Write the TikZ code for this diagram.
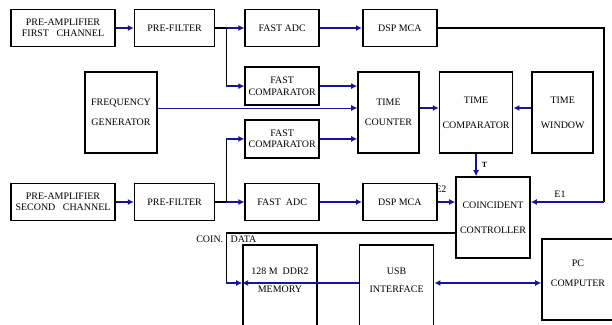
\documentclass[tikz,border=0pt]{standalone}
\usepackage{fontspec}
\setmainfont{Liberation Serif}
\usetikzlibrary{positioning,arrows.meta,calc}
\definecolor{cWire}{HTML}{14149c}
\tikzset{
  >={Latex[length=6pt,width=6pt]},
  blk/.style={draw,line width=1.6pt,align=center,inner sep=1pt,
              font=\fontsize{10}{11.5}\selectfont,minimum height=37bp},
  tall/.style={blk,minimum height=81bp,font=\fontsize{10}{20}\selectfont},
  wide/.style={tall,font=\fontsize{10}{25}\selectfont},
  inlbl/.style={align=center,inner sep=0pt,font=\fontsize{10}{18}\selectfont},
  sar/.style={->,line width=1.5pt,cWire},
  sln/.style={line width=1.5pt,black},
  lbl/.style={font=\fontsize{10}{11}\selectfont,inner sep=0pt,text=black},
}
\begin{document}
\begin{tikzpicture}[x=1bp,y=1bp,node distance=18bp]
  \useasboundingbox (0,0) rectangle (612,324);
  \clip (0,0) rectangle (612,324);
  \node[blk,minimum width=104bp] (pa1) at (63,296) {PRE-AMPLIFIER\\FIRST~~~CHANNEL};
  \node[blk,minimum width=80bp,right=of pa1] (pf1) {PRE-FILTER};
  \node[blk,minimum width=74bp,right=29bp of pf1] (adc1) {FAST ADC};
  \node[blk,minimum width=74bp,right=42bp of adc1] (dsp1) {DSP MCA};
  \node[blk,minimum width=74bp,minimum height=38bp,below=19bp of adc1] (fc1) {FAST\\COMPARATOR};

  \node[tall,minimum width=72bp] (fg) at (121,211.5) {FREQUENCY\\GENERATOR};
  \node[tall,minimum width=61bp] (tcnt) at (388.5,211.5) {TIME\\COUNTER};
  \node[wide,minimum width=73bp,right=19bp of tcnt] (tcmp) {TIME\\COMPARATOR};
  \node[wide,minimum width=61bp,right=of tcmp] (twin) {TIME\\WINDOW};

  \node[blk,minimum width=104bp] (pa2) at (63,122) {PRE-AMPLIFIER\\SECOND~~~CHANNEL};
  \node[blk,minimum width=80bp,right=of pa2] (pf2) {PRE-FILTER};
  \node[blk,minimum width=74bp,right=29bp of pf2] (adc2) {FAST~~ADC};
  \node[blk,minimum width=74bp,right=42bp of adc2] (dsp2) {DSP MCA};
  \node[blk,minimum width=74bp,minimum height=38bp,above=24bp of adc2] (fc2) {FAST\\COMPARATOR};
  \node[wide,minimum width=74bp] (cc) at (493,106.5) {COINCIDENT\\CONTROLLER};

  \node[blk,minimum width=74bp,minimum height=90bp,
        label={[inlbl,yshift=9.5bp]center:{128 M~~DDR2\\MEMORY}}] (mem) at (280,34) {};
  \node[blk,minimum width=74bp,minimum height=90bp,right=41bp of mem,
        label={[inlbl,yshift=10bp]center:{USB\\INTERFACE}}] (usb) {};
  \node[blk,minimum width=72bp,minimum height=81bp,
        label={[inlbl,yshift=6.5bp,font=\fontsize{10}{20}\selectfont]center:{PC\\COMPUTER}}] (pc) at (578,44.5) {};

  \coordinate[right=11bp of pf1] (br1);
  \coordinate[right=11bp of pf2] (br2);
  \coordinate (e1) at ($(cc.east)+(73bp,15.5bp)$);
  \coordinate (cd) at ([yshift=-15.5bp]cc.west);
  \coordinate (md) at ([yshift=7bp]mem.west);

  \draw[sar] (pa1) -- (pf1);
  \draw[sln] (pf1) -- (br1);
  \draw[sar] (br1) -- (adc1);
  \draw[sln] (br1) -- (br1 |- fc1);
  \draw[sar] (br1 |- fc1) -- (fc1);
  \draw[sar] (adc1) -- (dsp1);
  \draw[sln] (dsp1) -| (e1);
  \draw[sar] (e1) -- (e1 -| cc.east) node[lbl,pos=0.6,above=4bp] {E1};

  \draw[sar] (fc1) -- (fc1 -| tcnt.west);
  \draw[sar,line width=0.8pt] ([yshift=4.5bp]fg.east) -- ([yshift=4.5bp]fg.east -| tcnt.west);
  \draw[sar] (fc2) -- (fc2 -| tcnt.west);
  \draw[sar] ([yshift=4.5bp]tcnt.east) -- ([yshift=4.5bp]tcnt.east -| tcmp.west);
  \draw[sar] ([yshift=4.5bp]twin.west) -- ([yshift=4.5bp]twin.west -| tcmp.east);
  \draw[sar] (tcmp) -- (tcmp |- cc.north)
    node[lbl,midway,right=5bp,font=\fontsize{8}{9}\selectfont\bfseries] {T};

  \draw[sar] (pa2) -- (pf2);
  \draw[sln] (pf2) -- (br2);
  \draw[sar] (br2) -- (adc2);
  \draw[sln] (br2) -- (br2 |- fc2);
  \draw[sar] (br2 |- fc2) -- (fc2);
  \draw[sar] (adc2) -- (dsp2);
  \draw[sar] (dsp2) -- (dsp2 -| cc.west) node[lbl,pos=1,above left=9bp and 8bp] {E2};

  \draw[sln] (cd) -| (br2 |- md);
  \draw[sar] (br2 |- md) -- (md);
  \node[lbl,anchor=north east] (coin) at ($(cd -| br2)+(-3bp,-3bp)$) {COIN.};
  \node[lbl,anchor=north west] (data) at ($(cd -| br2)+(4bp,-3bp)$) {DATA};
  \draw[sar] ([yshift=7bp]usb.west) -- (md);
  \draw[sar,<->] ([yshift=7bp]usb.east) -- ([yshift=7bp]usb.east -| pc.west);
\end{tikzpicture}
\end{document}
